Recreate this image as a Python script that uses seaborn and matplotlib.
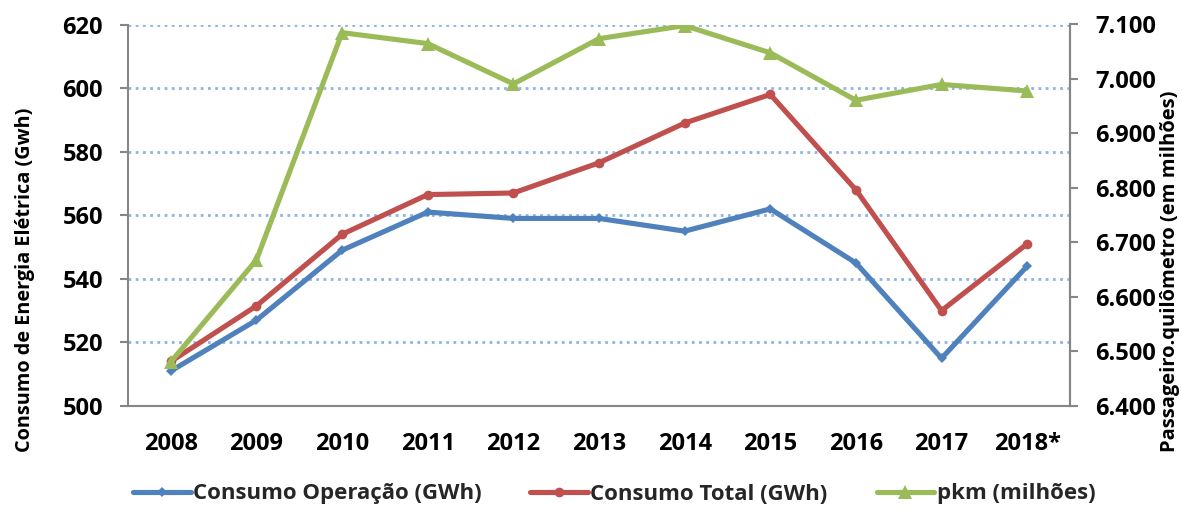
import matplotlib
matplotlib.use("Agg")
import matplotlib.pyplot as plt
from matplotlib.ticker import FixedLocator, MultipleLocator, FuncFormatter
import seaborn as sns
import pandas as pd

# Annual series
anos = ["2008", "2009", "2010", "2011", "2012", "2013", "2014", "2015", "2016", "2017", "2018*"]
consumo_operacao = [511, 527, 549, 561, 559, 559, 555, 562, 545, 515, 544]
consumo_total = [514, 531.5, 554, 566.5, 567, 576.5, 589, 598, 568, 530, 551]
pkm_milhoes = [6481, 6668, 7085, 7065, 6991, 7074, 7098, 7048, 6961, 6990, 6978]

azul = "#4F81BD"
vermelho = "#C0504D"
verde = "#9BBB59"
cinza = "#868686"

sns.set_theme(style="white")
plt.rcParams["font.family"] = ["Open Sans", "DejaVu Sans"]
plt.rcParams["font.weight"] = "bold"

df = pd.DataFrame({"ano": anos, "oper": consumo_operacao,
                   "total": consumo_total, "pkm": pkm_milhoes})

fig = plt.figure(figsize=(11.82, 5.08), dpi=100)
ax = fig.add_axes([128 / 1182, 1 - 406 / 508, (1070 - 128) / 1182, (406 - 24.5) / 508])
ax2 = ax.twinx()

lw = 3.7
sns.lineplot(data=df, x="ano", y="oper", ax=ax, color=azul, lw=lw, marker="D",
             markersize=5, markeredgewidth=0, sort=False, label="Consumo Operação (GWh)",
             legend=False)
sns.lineplot(data=df, x="ano", y="total", ax=ax, color=vermelho, lw=lw, marker="o",
             markersize=7, markeredgewidth=0, sort=False, label="Consumo Total (GWh)",
             legend=False)
sns.lineplot(data=df, x="ano", y="pkm", ax=ax2, color=verde, lw=lw, marker="^",
             markersize=10, markeredgewidth=0, sort=False, label="pkm (milhões)",
             legend=False)

# Left axis
ax.set_ylim(500, 620)
ax.yaxis.set_major_locator(MultipleLocator(20))
ax.set_xlim(-0.5, len(anos) - 0.5)
ax.set_xlabel("")
ax.set_ylabel("")
for v in range(520, 621, 20):
    ax.axhline(v, color="#8EB4E3", lw=2, ls=(0, (1, 1.6)), zorder=0)

# Right axis
ax2.set_ylim(6400, 7100)
ax2.yaxis.set_major_locator(MultipleLocator(100))
ax2.yaxis.set_major_formatter(FuncFormatter(lambda v, p: f"{int(round(v)):,}".replace(",", ".")))
ax2.set_ylabel("")

# Axis titles
fig.text(25 / 1182, 1 - 280 / 508, "Consumo de Energia Elétrica (Gwh)", rotation=90,
         ha="center", va="center", fontsize=14.3, fontweight="bold", color="black")
fig.text(1170 / 1182, 1 - 271 / 508, "Passageiro.quilômetro (em milhões)", rotation=90,
         ha="center", va="center", fontsize=14.5, fontweight="bold", color="black")

# Category ticks at boundaries, labels at centres
ax.set_xticks(range(len(anos)))
ax.set_xticklabels(anos)
ax.xaxis.set_minor_locator(FixedLocator([i - 0.5 for i in range(len(anos) + 1)]))
ax.tick_params(axis="x", which="major", length=0, pad=19, labelsize=17, labelcolor="black")
ax.tick_params(axis="x", which="minor", length=6, width=1.5, color=cinza, direction="out")
ax.tick_params(axis="y", length=6, width=1.5, color=cinza, direction="out", pad=12,
               labelsize=17, labelcolor="black", left=True)
ax2.tick_params(axis="y", length=6, width=1.5, color=cinza, direction="out", pad=12,
                labelsize=17, labelcolor="black", right=True)

for a in (ax, ax2):
    for s in ("left", "right", "bottom"):
        a.spines[s].set_visible(True)
        a.spines[s].set_color(cinza)
        a.spines[s].set_linewidth(1.5)
    a.spines["top"].set_visible(False)
    for lab in a.get_yticklabels() + a.get_xticklabels():
        lab.set_fontweight("bold")
ax2.spines["left"].set_visible(False)
ax2.spines["bottom"].set_visible(False)

handles = [h for h in ax.get_lines() if not h.get_label().startswith("_")] + \
          [h for h in ax2.get_lines() if not h.get_label().startswith("_")]
fig.legend(handles=handles, labels=[h.get_label() for h in handles],
           loc="center", bbox_to_anchor=(614 / 1182, 1 - 494 / 508), ncol=3,
           frameon=False, handlelength=2.6, columnspacing=2.2, handletextpad=0.1,
           prop={"weight": "bold", "size": 16})

fig.savefig("out.png", dpi=100)
